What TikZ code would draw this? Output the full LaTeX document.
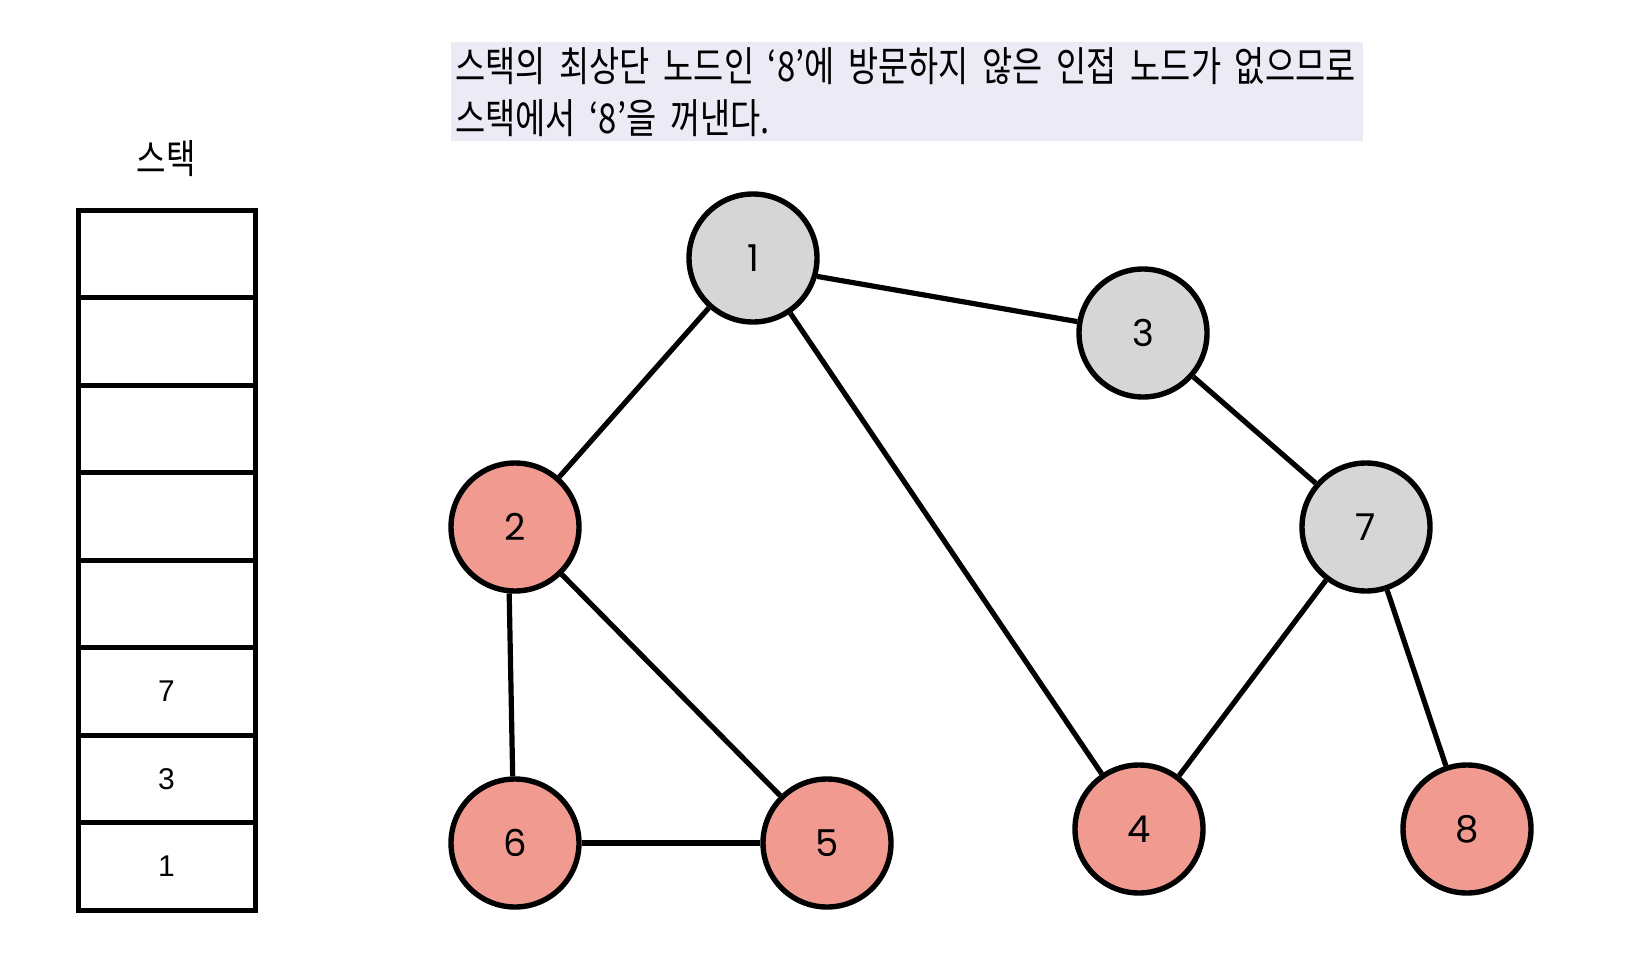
\documentclass[tikz,border=0pt]{standalone}
\usepackage{fontspec}
\setmainfont{Poppins}
\newfontfamily\krfont[FakeStretch=0.8]{Noto Sans CJK KR}
\newfontfamily\stackfont{Liberation Sans}
\usetikzlibrary{positioning}
\definecolor{cVisit}{HTML}{F09A90}
\definecolor{cDone} {HTML}{D6D6D6}
\definecolor{cNote} {HTML}{ECEAF4}
\tikzset{
  vtx/.style={circle,draw,line width=2.7pt,minimum size=64pt,inner sep=0pt,
              font=\fontsize{18.5}{19}\selectfont},
  vdone/.style={vtx,fill=cDone},
  vred/.style ={vtx,fill=cVisit},
  cell/.style={draw,line width=2.5pt,outer sep=0pt,minimum width=88.5pt,
               minimum height=43.75pt,inner sep=0pt,
               font=\stackfont\fontsize{15}{15}\selectfont},
  lnk/.style={line width=2.6pt},
}

\begin{document}
\begin{tikzpicture}[x=0.5pt,y=-0.5pt]
    \useasboundingbox (0,0) rectangle (1638,958);
    \node[fill=cNote,anchor=north west,minimum width=456pt,minimum height=49.5pt,
          text width=452pt,inner sep=2pt,align=left,
          font=\krfont\fontsize{20.5}{26}\selectfont] (note) at (451,42)
          {스택의 최상단 노드인 ‘8’에 방문하지 않은 인접 노드가 없으므로\\스택에서 ‘8’을 꺼낸다.};
    % stack, top cell first
    \node[font=\krfont\fontsize{20}{20}\selectfont] (stk) at (166,159) {스택};
    \node[cell,anchor=north west] (c1) at (78,210) {};
    \foreach \p/\j/\lbl in {1/2/,2/3/,3/4/,4/5/,5/6/7,6/7/3,7/8/1}
      \node[cell,below=0pt of c\p] (c\j) {\lbl};
    % graph
    \node[vdone] (n1) at (753,258) {1};
    \node[vdone] (n3) at (1143,333) {3};
    \node[vred]  (n2) at (515,527) {2};
    \node[vdone] (n7) at (1366,527) {7};
    \node[vred]  (n6) at (515,843) {6};
    \node[vred]  (n5) at (827,843) {5};
    \node[vred]  (n4) at (1139,829) {4};
    \node[vred]  (n8) at (1467,829) {8};
    \draw[lnk] (n1.-16) -- (n3);
    \draw[lnk] (n1) -- (n2);
    \draw[lnk] (n1) -- (n4);
    \draw[lnk] (n3) -- (n7);
    \draw[lnk] (n2.265) -- (n6.92);
    \draw[lnk] (n2) -- (n5);
    \draw[lnk] (n6) -- (n5);
    \draw[lnk] (n7) -- (n4);
    \draw[lnk] (n7) -- (n8);
\end{tikzpicture}
\end{document}
